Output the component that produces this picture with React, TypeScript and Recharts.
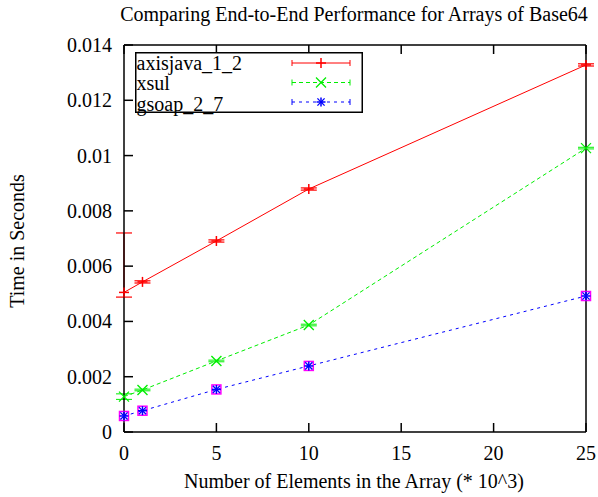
import React from 'react';
import { LineChart, Line, XAxis, YAxis, ErrorBar, Legend, Customized } from 'recharts';

const sizes = [0, 1, 5, 10, 25];
const axisjava = [0.00505, 0.00543, 0.00691, 0.00879, 0.01328];
const axisjavaErr = [
  [0.00017, 0.00215],
  [0.00004, 0.00004],
  [0.00004, 0.00004],
  [0.00004, 0.00004],
  [0.00004, 0.00004],
];
const xsul = [0.00128, 0.00152, 0.00257, 0.00387, 0.01027];
const xsulErr = [
  [0.0001, 0.0001],
  [0.00003, 0.00003],
  [0.00003, 0.00003],
  [0.00003, 0.00003],
  [0.00003, 0.00003],
];
const gsoap = [0.00058, 0.00077, 0.00154, 0.00239, 0.00492];
const gsoapExtra = [0.00058, 0.00077, 0.00154, 0.00239, 0.00492];

const xTicks = [0, 5, 10, 15, 20, 25];
const yTicks = [0, 0.002, 0.004, 0.006, 0.008, 0.01, 0.012, 0.014];
const yTickLabels = ['0', '0.002', '0.004', '0.006', '0.008', '0.01', '0.012', '0.014'];

const seriesNames = ['axisjava_1_2', 'xsul', 'gsoap_2_7'];
const title = 'Comparing End-to-End Performance for Arrays of Base64';
const xLabel = 'Number of Elements in the Array (* 10^3)';
const yLabel = 'Time in Seconds';

const data = sizes.map((x, i) => ({
  x,
  axisjava: axisjava[i],
  axisErr: axisjavaErr[i],
  xsul: xsul[i],
  xsulErr: xsulErr[i],
  gsoap: gsoap[i],
  extra: gsoapExtra[i],
}));

const FONT = '"Liberation Serif", "Times New Roman", serif';
const RED = '#ff0000';
const GREEN = '#00ee00';
const BLUE = '#0000ff';
const MAGENTA = '#ff00ff';
const TICK_LEN = 9;
const TICK_W = 1.5;

const Plus = (cx: number, cy: number, c: string, s = 5) => (
  <g>
    <line x1={cx - s} y1={cy} x2={cx + s} y2={cy} stroke={c} strokeWidth={1.5} />
    <line x1={cx} y1={cy - s} x2={cx} y2={cy + s} stroke={c} strokeWidth={1.5} />
  </g>
);
const Cross = (cx: number, cy: number, c: string, s = 5) => (
  <g>
    <line x1={cx - s} y1={cy - s} x2={cx + s} y2={cy + s} stroke={c} strokeWidth={1.3} />
    <line x1={cx - s} y1={cy + s} x2={cx + s} y2={cy - s} stroke={c} strokeWidth={1.3} />
  </g>
);
const Star = (cx: number, cy: number, c: string, s = 4.5) => (
  <g>
    {Plus(cx, cy, c, s)}
    {Cross(cx, cy, c, s * 0.8)}
  </g>
);

const plusDot = (p: any) => <g key={`p${p.index}`}>{Plus(p.cx, p.cy, RED)}</g>;
const crossDot = (p: any) => <g key={`c${p.index}`}>{Cross(p.cx, p.cy, GREEN)}</g>;
const starDot = (p: any) => <g key={`s${p.index}`}>{Star(p.cx, p.cy, BLUE)}</g>;
const squareDot = (p: any) => (
  <rect key={`q${p.index}`} x={p.cx - 4.5} y={p.cy - 4.5} width={9} height={9} fill="none" stroke={MAGENTA} strokeWidth={1.5} />
);

const BottomTick = (p: any) => (
  <g>
    <line x1={p.x} y1={p.y} x2={p.x} y2={p.y - TICK_LEN} stroke="#000000" strokeWidth={TICK_W} />
    <text x={p.x} y={p.y + 28} textAnchor="middle" fontFamily={FONT} fontSize={20} fill="black">
      {p.payload.value}
    </text>
  </g>
);
const TopTick = (p: any) => (
  <g>
    <line x1={p.x} y1={p.y} x2={p.x} y2={p.y + TICK_LEN} stroke="#000000" strokeWidth={TICK_W} />
  </g>
);
const LeftTick = (p: any) => (
  <g>
    <line x1={p.x} y1={p.y} x2={p.x + TICK_LEN} y2={p.y} stroke="#000000" strokeWidth={TICK_W} />
    <text x={p.x - 12} y={p.y + 7} textAnchor="end" fontFamily={FONT} fontSize={20} fill="black">
      {yTickLabels[p.index]}
    </text>
  </g>
);
const RightTick = (p: any) => (
  <g>
    <line x1={p.x} y1={p.y} x2={p.x - TICK_LEN} y2={p.y} stroke="#000000" strokeWidth={TICK_W} />
  </g>
);

const LegendBox = () => {
  const rows = [
    { name: seriesNames[0], color: RED, dash: undefined, mark: Plus },
    { name: seriesNames[1], color: GREEN, dash: '4 3', mark: Cross },
    { name: seriesNames[2], color: BLUE, dash: '3 4', mark: Star },
  ];
  return (
    <svg width={228} height={61} style={{ display: 'block', overflow: 'visible' }}>
      <rect x={0.75} y={0.75} width={226.5} height={59.5} fill="white" stroke="black" strokeWidth={1.5} />
      {rows.map((r, i) => {
        const ly = 11 + i * 19.5;
        return (
          <g key={r.name}>
            <text x={1.5} y={17.5 + i * 20.5} fontFamily={FONT} fontSize={20} fill="black">{r.name}</text>
            <line x1={157} y1={ly} x2={215} y2={ly} stroke={r.color} strokeWidth={1} strokeDasharray={r.dash} />
            <line x1={157} y1={ly - 3} x2={157} y2={ly + 3} stroke={r.color} strokeWidth={1} />
            <line x1={215} y1={ly - 3} x2={215} y2={ly + 3} stroke={r.color} strokeWidth={1} />
            {r.mark(186, ly, r.color)}
          </g>
        );
      })}
    </svg>
  );
};

const Labels = () => (
  <g>
    <text x={354} y={21} textAnchor="middle" fontFamily={FONT} fontSize={20} fill="black">{title}</text>
    <text x={354} y={488} textAnchor="middle" fontFamily={FONT} fontSize={20} fill="black">{xLabel}</text>
    <text x={24} y={241} textAnchor="middle" transform="rotate(-90 24 241)" fontFamily={FONT} fontSize={20} fill="black">{yLabel}</text>
  </g>
);

export default function App() {
  const axisLine = { stroke: 'black', strokeWidth: 1.5 };
  return (
    <div style={{ position: 'absolute', left: 0, top: 0, background: 'white' }}>
      <LineChart width={598} height={497} data={data} margin={{ top: 43, right: 10, bottom: 20, left: 64 }}>
        <XAxis
          dataKey="x"
          type="number"
          domain={[0, 25]}
          ticks={xTicks}
          height={45}
          tickSize={0}
          tickMargin={0}
          tick={BottomTick}
          tickLine={false}
          axisLine={axisLine}
        />
        <XAxis
          xAxisId="top"
          orientation="top"
          dataKey="x"
          type="number"
          domain={[0, 25]}
          ticks={xTicks}
          height={2}
          tickSize={0}
          tickMargin={0}
          tick={TopTick}
          tickLine={false}
          axisLine={axisLine}
        />
        <YAxis
          type="number"
          domain={[0, 0.014]}
          ticks={yTicks}
          width={60}
          tickSize={0}
          tickMargin={0}
          tick={LeftTick}
          tickLine={false}
          axisLine={axisLine}
        />
        <YAxis
          yAxisId="right"
          orientation="right"
          type="number"
          domain={[0, 0.014]}
          ticks={yTicks}
          width={2}
          tickSize={0}
          tickMargin={0}
          tick={RightTick}
          tickLine={false}
          axisLine={axisLine}
        />
        <Legend
          layout="horizontal"
          verticalAlign="middle"
          align="center"
          wrapperStyle={{ position: 'absolute', left: 135, top: 52, width: 228, height: 61 }}
          content={() => <LegendBox />}
        />
        <Line dataKey="axisjava" name={seriesNames[0]} stroke={RED} strokeWidth={1} dot={plusDot} activeDot={false} isAnimationActive={false}>
          <ErrorBar dataKey="axisErr" direction="y" width={8} stroke={RED} strokeWidth={1.2} />
        </Line>
        <Line dataKey="xsul" name={seriesNames[1]} stroke={GREEN} strokeWidth={1} strokeDasharray="4 3" dot={crossDot} activeDot={false} isAnimationActive={false}>
          <ErrorBar dataKey="xsulErr" direction="y" width={8} stroke={GREEN} strokeWidth={1} />
        </Line>
        <Line dataKey="extra" stroke="none" dot={squareDot} activeDot={false} legendType="none" isAnimationActive={false} />
        <Line dataKey="gsoap" name={seriesNames[2]} stroke={BLUE} strokeWidth={1} strokeDasharray="3 4" dot={starDot} activeDot={false} isAnimationActive={false} />
        <Customized component={Labels} />
      </LineChart>
    </div>
  );
}
